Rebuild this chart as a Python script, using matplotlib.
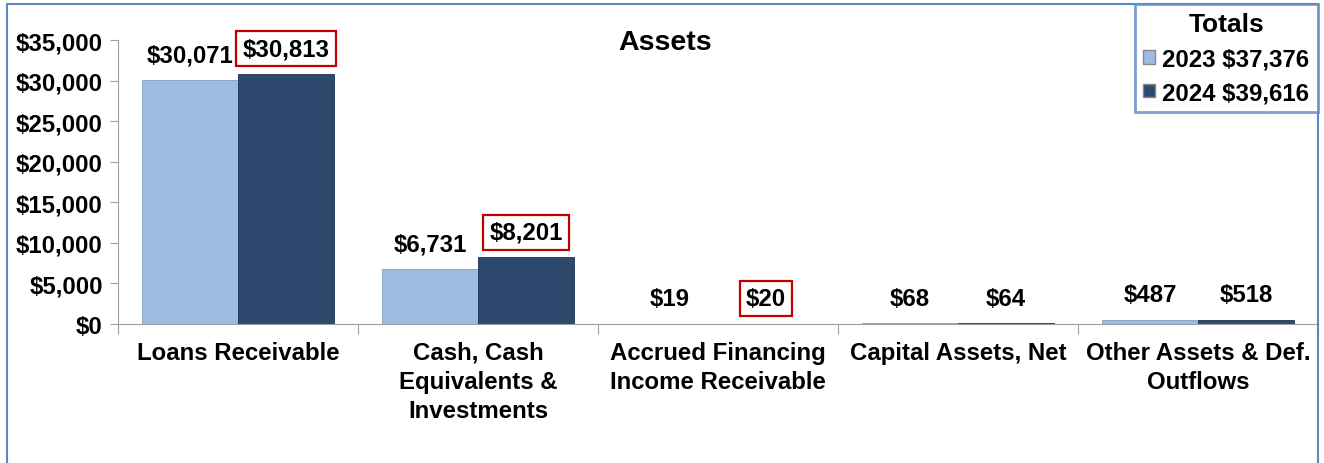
import matplotlib
matplotlib.use("Agg")
import matplotlib.pyplot as plt
from matplotlib.patches import Rectangle, Patch
import numpy as np

plt.rcParams['font.family'] = ['Liberation Sans', 'DejaVu Sans']
plt.rcParams['font.weight'] = 'bold'

categories = ["Loans Receivable", "Cash, Cash\nEquivalents &\nInvestments",
              "Accrued Financing\nIncome Receivable", "Capital Assets, Net",
              "Other Assets & Def.\nOutflows"]
values_2023 = [30071, 6731, 19, 68, 487]
values_2024 = [30813, 8201, 20, 64, 518]
boxed_2024 = [True, True, True, False, False]
series_names = ["2023", "2024"]
totals = [37376, 39616]
yticks = [0, 5000, 10000, 15000, 20000, 25000, 30000, 35000]

c23, e23 = '#9EBBE2', '#7F9DC6'
c24, e24 = '#2D4A6E', '#1E324F'

fig = plt.figure(figsize=(13.24, 4.64), dpi=100)
ax = fig.add_axes([118/1324, 1-325/464, (1318-118)/1324, (325-41)/464])

x = np.arange(len(categories))
w = 0.4
ax.bar(x - w/2, values_2023, w, color=c23, edgecolor=e23, linewidth=0.6)
ax.bar(x + w/2, values_2024, w, color=c24, edgecolor=e24, linewidth=0.6)

fs = 17.3
for xi, v in zip(x - w/2, values_2023):
    ax.annotate(f"${v:,}", (xi, v), xytext=(0, 10), textcoords='offset points',
                ha='center', va='bottom', fontsize=fs, fontweight='bold')
for xi, v, bx in zip(x + w/2, values_2024, boxed_2024):
    kw = {}
    if bx:
        kw['bbox'] = dict(boxstyle='square,pad=0.25', fc='white', ec='#C00000', lw=1.6)
    ax.annotate(f"${v:,}", (xi, v), xytext=(0, 10), textcoords='offset points',
                ha='center', va='bottom', fontsize=fs, fontweight='bold', **kw)

ax.set_xlim(-0.5, len(categories) - 0.5)
ax.set_ylim(0, 35000)
ax.set_yticks(yticks)
ax.set_yticklabels([f"${t:,}" for t in yticks], fontsize=fs, fontweight='bold')
ax.set_xticks(np.arange(len(categories) + 1) - 0.5)
ax.set_xticklabels([])
ax.set_xticks(x, minor=True)
ax.set_xticklabels(categories, minor=True, fontsize=fs, fontweight='bold', linespacing=1.35)
ax.tick_params(axis='x', which='minor', length=0, pad=12)
ax.tick_params(axis='x', which='major', length=7, color='#A0A0A0')
ax.tick_params(axis='y', length=6, color='#A0A0A0', pad=5)
for s in ['top', 'right']:
    ax.spines[s].set_visible(False)
for s in ['left', 'bottom']:
    ax.spines[s].set_color('#A0A0A0')

fig.text(665/1324, 1-43/464, "Assets", ha='center', va='center', fontsize=20.5, fontweight='bold')

handles = [Patch(facecolor=c23, edgecolor='#888888'), Patch(facecolor=c24, edgecolor='#888888')]
labels = [f"{n} ${t:,}" for n, t in zip(series_names, totals)]
leg = fig.legend(handles, labels, title="Totals", loc='upper right',
                 bbox_to_anchor=(1318/1324, 1-5/464), borderaxespad=0,
                 fontsize=fs, title_fontproperties={'size': 19, 'weight': 'bold'},
                 handlelength=0.5, handleheight=0.5, handletextpad=0.3,
                 frameon=True, fancybox=False, edgecolor='#5B87C5',
                 borderpad=0.35, labelspacing=0.45)
leg.get_frame().set_linewidth(2)
for t in leg.get_texts():
    t.set_fontweight('bold')

fig.patches.append(Rectangle((7/1324, -0.05), (1318-7)/1324, 1.05 - 5/464,
                             transform=fig.transFigure, fill=False,
                             edgecolor='#5B87C5', linewidth=1.5, zorder=0))

fig.savefig("out.png", dpi=100)
